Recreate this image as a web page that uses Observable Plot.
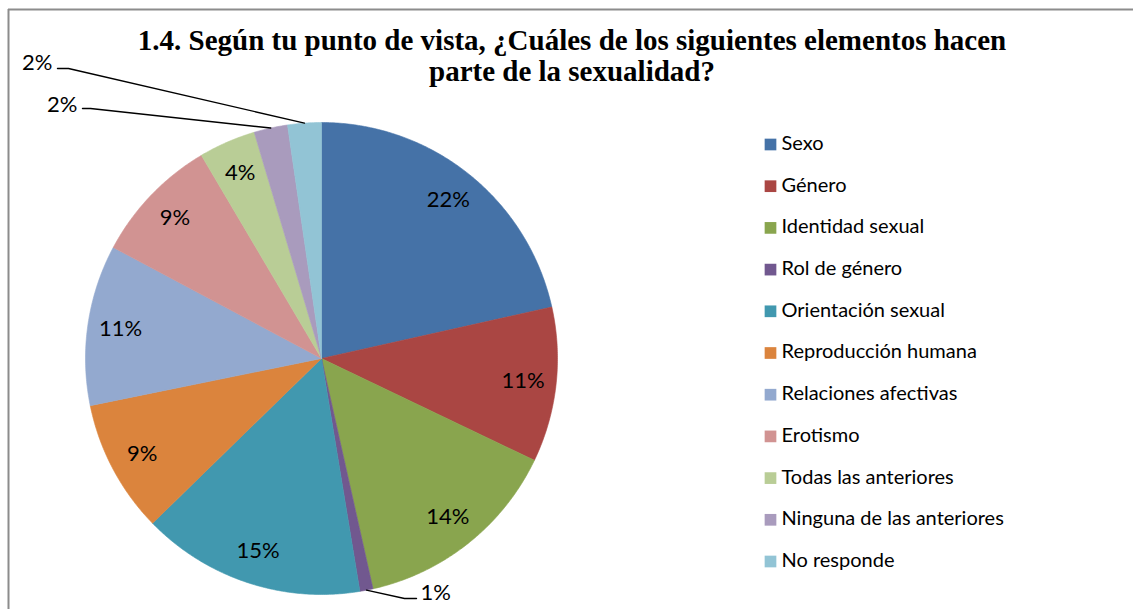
<!DOCTYPE html>
<html>
<head>
<meta charset="utf-8">
<script src="https://cdn.jsdelivr.net/npm/d3@7"></script>
<script src="https://cdn.jsdelivr.net/npm/@observablehq/plot@0.6"></script>
<style>
  body { margin: 0; background: #fff; }
  #chart { width: 1133px; height: 609px; }
</style>
</head>
<body>
<div id="chart"></div>
<script>
// ---------- data ----------
const categories = [
  "Sexo", "Género", "Identidad sexual", "Rol de género", "Orientación sexual",
  "Reproducción humana", "Relaciones afectivas", "Erotismo",
  "Todas las anteriores", "Ninguna de las anteriores", "No responde"
];
const shares = [21.5, 10.6, 14.4, 0.9, 15.3, 9.1, 11.0, 8.7, 3.9, 2.3, 2.3];
const colors = [
  "#4572A7", "#AA4643", "#89A54E", "#71588F", "#4198AF",
  "#DB843D", "#93A9CF", "#D19392", "#B9CD96", "#A99BBD", "#92C4D5"
];
const titleLines = [
  "1.4. Según tu punto de vista, ¿Cuáles de los siguientes elementos hacen",
  "parte de la sexualidad?"
];

// ---------- layout ----------
const W = 1133, H = 609;
const cx = 321, cy = 358, R = 236;
const labelRadius = 0.86 * R;
const legendX = 770, legendY0 = 144, legendStep = 41.7;
// manual callout placement for the thin slices (annotation layout)
const callouts = {
  "Rol de género":             {elbow: [404, 598], end: [416, 598], label: [420, 592], anchor: "start"},
  "Ninguna de las anteriores": {elbow: [90, 108],  end: [82, 108],  label: [77, 104],  anchor: "end"},
  "No responde":               {elbow: [68, 68],   end: [57, 68],   label: [52, 62],   anchor: "end"}
};

// ---------- derived geometry ----------
const total = d3.sum(shares);
let acc = 0;
const slices = categories.map((name, i) => {
  const a0 = acc / total * 2 * Math.PI;
  acc += shares[i];
  const a1 = acc / total * 2 * Math.PI;
  return {name, value: shares[i], a0, a1, mid: (a0 + a1) / 2, label: Math.round(shares[i]) + "%"};
});
const pt = (a, r) => [cx + r * Math.sin(a), cy - r * Math.cos(a)];

const slicePts = slices.flatMap(s => {
  const n = Math.max(2, Math.ceil((s.a1 - s.a0) / (Math.PI / 360)));
  const pts = [{name: s.name, x: cx, y: cy}];
  for (let k = 0; k <= n; k++) {
    const [x, y] = pt(s.a0 + (s.a1 - s.a0) * k / n, R);
    pts.push({name: s.name, x, y});
  }
  pts.push({name: s.name, x: cx, y: cy});
  return pts;
});

const insideLabels = slices.filter(s => !callouts[s.name]).map(s => {
  const [x, y] = pt(s.mid, labelRadius);
  return {x, y, text: s.label};
});
const outsideLabels = slices.filter(s => callouts[s.name]).map(s => {
  const c = callouts[s.name];
  return {x: c.label[0], y: c.label[1], text: s.label, anchor: c.anchor};
});
const leaderPts = slices.filter(s => callouts[s.name]).flatMap(s => {
  const c = callouts[s.name];
  const [ex, ey] = pt(s.mid, R);
  return [
    {name: s.name, x: ex, y: ey},
    {name: s.name, x: c.elbow[0], y: c.elbow[1]},
    {name: s.name, x: c.end[0], y: c.end[1]}
  ];
});
const legendItems = categories.map((name, i) => ({name, x: legendX, y: legendY0 + i * legendStep}));

const chart = Plot.plot({
  width: W, height: H,
  margin: 0,
  x: {domain: [0, W], range: [0, W], axis: null},
  y: {domain: [0, H], range: [0, H], axis: null},
  color: {domain: categories, range: colors},
  style: {fontFamily: "Lato, sans-serif", background: "#fff", overflow: "visible"},
  marks: [
    Plot.ruleY([9], {x1: 8, x2: W, stroke: "#8c8c8c", strokeWidth: 2}),
    Plot.ruleX([8], {y1: 9, y2: H, stroke: "#8c8c8c", strokeWidth: 2}),
    Plot.line(slicePts, {x: "x", y: "y", z: "name", fill: "name", stroke: "name", strokeWidth: 0.6, curve: "linear"}),
    Plot.text(insideLabels, {x: "x", y: "y", text: "text", fontSize: 22, fill: "#000"}),
    Plot.line(leaderPts, {x: "x", y: "y", z: "name", stroke: "#000", strokeWidth: 1.4, curve: "linear"}),
    Plot.text(outsideLabels, {x: "x", y: "y", text: "text", textAnchor: "start", fontSize: 22, fill: "#000",
      filter: d => d.anchor === "start"}),
    Plot.text(outsideLabels, {x: "x", y: "y", text: "text", textAnchor: "end", fontSize: 22, fill: "#000",
      filter: d => d.anchor === "end"}),
    Plot.dot(legendItems, {x: "x", y: "y", fill: "name", symbol: "square", r: 6.6, stroke: null}),
    Plot.text(legendItems, {x: "x", y: "y", text: "name", dx: 11, dy: -1, textAnchor: "start", fontSize: 20, fill: "#000"}),
    Plot.text([titleLines.join("\n")], {
      frameAnchor: "top", dx: 5, dy: 27, lineHeight: 1.07,
      text: d => d, fontFamily: "Liberation Serif, Times New Roman, serif",
      fontWeight: "bold", fontSize: 29, fill: "#000"
    })
  ]
});
document.getElementById("chart").appendChild(chart);
</script>
</body>
</html>
